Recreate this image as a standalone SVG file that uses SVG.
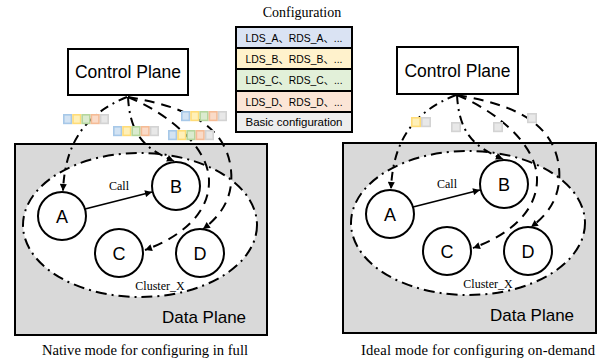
<svg xmlns="http://www.w3.org/2000/svg" width="598" height="360" viewBox="0 0 598 360">
  <defs>
    <marker id="arr" viewBox="0 0 10 10" refX="10" refY="5" markerWidth="8" markerHeight="7" markerUnits="userSpaceOnUse" orient="auto">
      <path d="M0,0 L10,5 L0,10 z" fill="#000"/>
    </marker>
    <style>
      .box { fill: #fff; stroke: #000; stroke-width: 2; }
      .dp { fill: #d9d9d9; stroke: #000; stroke-width: 2; }
      .cluster { fill: #fff; stroke: #000; stroke-width: 2; stroke-dasharray: 11 5 2 5; }
      .node { fill: #fff; stroke: #000; stroke-width: 2; }
      .dashdot { fill: none; stroke: #000; stroke-width: 2; stroke-dasharray: 9 5 2 5; }
      .dash { fill: none; stroke: #000; stroke-width: 2; stroke-dasharray: 10 7; }
      .solid { fill: none; stroke: #000; stroke-width: 1.8; }
      .sans { font-family: "Liberation Sans", Arial, sans-serif; fill: #000; }
      .serif { font-family: "Liberation Serif", "Times New Roman", serif; fill: #000; }
      .cp { font-size: 17.5px; text-anchor: middle; }
      .lbl { font-size: 18px; text-anchor: middle; }
      .small { font-size: 12px; text-anchor: middle; }
      .cap { font-size: 14.6px; text-anchor: middle; }
      .row { stroke: #000; stroke-width: 2; }
      .cell { font-family: "Liberation Sans", Arial, "Noto Sans CJK SC", sans-serif; font-size: 11px; text-anchor: middle; fill: #000; }
      .sqb { fill: #d3e3f3; stroke: #a7c8e8; stroke-width: 1.6; }
      .sqy { fill: #fff0b8; stroke: #ffdc78; stroke-width: 1.6; }
      .sqg { fill: #dbebcf; stroke: #b5d69d; stroke-width: 1.6; }
      .sqo { fill: #fadbc8; stroke: #f5bb95; stroke-width: 1.6; }
      .sqk { fill: #e8e8e8; stroke: #d3d3d3; stroke-width: 1.6; }
    </style>
  </defs>

  <!-- Configuration table -->
  <g id="configuration">
    <text class="serif" x="302" y="17" font-size="14" text-anchor="middle">Configuration</text>
    <rect class="row" x="236" y="27" width="116" height="21" fill="#dae3f3"/>
    <rect class="row" x="236" y="48" width="116" height="21" fill="#fff2cc"/>
    <rect class="row" x="236" y="69" width="116" height="22" fill="#e2f0d9"/>
    <rect class="row" x="236" y="91" width="116" height="21" fill="#fbe5d6"/>
    <rect class="row" x="236" y="112" width="116" height="20" fill="#ededed"/>
    <text class="cell" x="294" y="41.5" textLength="97" lengthAdjust="spacingAndGlyphs">LDS_A、RDS_A、...</text>
    <text class="cell" x="294" y="62.5" textLength="97" lengthAdjust="spacingAndGlyphs">LDS_B、RDS_B、...</text>
    <text class="cell" x="294" y="84" textLength="97" lengthAdjust="spacingAndGlyphs">LDS_C、RDS_C、...</text>
    <text class="cell" x="294" y="105.5" textLength="97" lengthAdjust="spacingAndGlyphs">LDS_D、RDS_D、...</text>
    <text class="cell" x="294" y="126" textLength="97" lengthAdjust="spacingAndGlyphs">Basic configuration</text>
  </g>

  <!-- LEFT PANEL -->
  <g id="left-panel">
    <g id="left-data-plane">
      <rect class="dp" x="15" y="144" width="252" height="191"/>
      <text class="sans" x="204" y="322.5" font-size="17" text-anchor="middle">Data Plane</text>
    </g>
    <g id="left-cluster">
      <ellipse class="cluster" cx="140" cy="225" rx="117" ry="72"/>
      <text class="serif small" x="160" y="290">Cluster_X</text>
    </g>
    <g id="left-control-plane">
      <rect class="box" x="68" y="49" width="120" height="46"/>
      <text class="sans cp" x="128" y="78">Control Plane</text>
    </g>
    <g id="left-connectors">
      <path class="dashdot" d="M127,97 C88,113 65,140 63,191" marker-end="url(#arr)"/>
      <path class="dashdot" d="M128,97 C130,132 142,148 174,161" marker-end="url(#arr)"/>
      <path class="dash" d="M128,97 C165,112 208,145 209,180 C210,215 178,238 145,250" marker-end="url(#arr)"/>
      <path class="dash" d="M128,97 C175,105 226,120 231,170 C234,200 218,218 203,229" marker-end="url(#arr)"/>
      <path class="solid" d="M85,209 L152,192" marker-end="url(#arr)"/>
      <text class="serif small" x="119" y="190">Call</text>
    </g>
    <g id="left-node-A"><circle class="node" cx="62" cy="216" r="24"/><text class="sans lbl" x="62" y="222.5">A</text></g>
    <g id="left-node-B"><circle class="node" cx="176" cy="186" r="24"/><text class="sans lbl" x="176" y="192.5">B</text></g>
    <g id="left-node-C"><circle class="node" cx="119" cy="253" r="24"/><text class="sans lbl" x="119" y="259.5">C</text></g>
    <g id="left-node-D"><circle class="node" cx="200" cy="253" r="24"/><text class="sans lbl" x="200" y="259.5">D</text></g>
    <g id="left-config-packets">
      <g transform="translate(63,114)">
        <rect class="sqb" x="0.8" y="0.8" width="7.6" height="8.6"/>
        <rect class="sqy" x="10" y="0.8" width="7.6" height="8.6"/>
        <rect class="sqg" x="19.2" y="0.8" width="7.6" height="8.6"/>
        <rect class="sqo" x="28.4" y="0.8" width="7.6" height="8.6"/>
        <rect class="sqk" x="37.6" y="0.8" width="7.6" height="8.6"/>
      </g>
      <g transform="translate(113,126)">
        <rect class="sqb" x="0.8" y="0.8" width="7.6" height="8.6"/>
        <rect class="sqy" x="10" y="0.8" width="7.6" height="8.6"/>
        <rect class="sqg" x="19.2" y="0.8" width="7.6" height="8.6"/>
        <rect class="sqo" x="28.4" y="0.8" width="7.6" height="8.6"/>
        <rect class="sqk" x="37.6" y="0.8" width="7.6" height="8.6"/>
      </g>
      <g transform="translate(168,130)">
        <rect class="sqb" x="0.8" y="0.8" width="7.6" height="8.6"/>
        <rect class="sqy" x="10" y="0.8" width="7.6" height="8.6"/>
        <rect class="sqg" x="19.2" y="0.8" width="7.6" height="8.6"/>
        <rect class="sqo" x="28.4" y="0.8" width="7.6" height="8.6"/>
        <rect class="sqk" x="37.6" y="0.8" width="7.6" height="8.6"/>
      </g>
      <g transform="translate(181,111)">
        <rect class="sqb" x="0.8" y="0.8" width="7.6" height="8.6"/>
        <rect class="sqy" x="10" y="0.8" width="7.6" height="8.6"/>
        <rect class="sqg" x="19.2" y="0.8" width="7.6" height="8.6"/>
        <rect class="sqo" x="28.4" y="0.8" width="7.6" height="8.6"/>
        <rect class="sqk" x="37.6" y="0.8" width="7.6" height="8.6"/>
      </g>
    </g>
    <text class="serif cap" x="145" y="355" textLength="206">Native mode for configuring in full</text>
  </g>

  <!-- RIGHT PANEL -->
  <g id="right-panel">
    <g transform="translate(328,-1)">
      <g id="right-data-plane">
        <rect class="dp" x="15" y="144" width="253" height="190"/>
        <text class="sans" x="204" y="322" font-size="17" text-anchor="middle">Data Plane</text>
      </g>
      <g id="right-cluster">
        <ellipse class="cluster" cx="140" cy="224" rx="117" ry="72"/>
        <text class="serif small" x="160" y="289">Cluster_X</text>
      </g>
      <g id="right-control-plane">
        <rect class="box" x="69" y="48" width="121" height="47"/>
        <text class="sans cp" x="129.5" y="77.5">Control Plane</text>
      </g>
      <g id="right-connectors">
        <path class="dashdot" d="M128,96 C88,112 65,139 63,190" marker-end="url(#arr)"/>
        <path class="dashdot" d="M129,96 C131,131 143,147 175,160" marker-end="url(#arr)"/>
        <path class="dash" d="M129,96 C166,111 208,144 209,179 C210,214 178,237 145,249" marker-end="url(#arr)"/>
        <path class="dash" d="M129,96 C176,104 226,119 231,169 C234,199 218,217 203,228" marker-end="url(#arr)"/>
        <path class="solid" d="M85,208 L152,191" marker-end="url(#arr)"/>
        <text class="serif small" x="119" y="189">Call</text>
      </g>
      <g id="right-node-A"><circle class="node" cx="62" cy="215" r="24"/><text class="sans lbl" x="62" y="221.5">A</text></g>
      <g id="right-node-B"><circle class="node" cx="176" cy="185" r="24"/><text class="sans lbl" x="176" y="191.5">B</text></g>
      <g id="right-node-C"><circle class="node" cx="119" cy="252" r="24"/><text class="sans lbl" x="119" y="258.5">C</text></g>
      <g id="right-node-D"><circle class="node" cx="200" cy="252" r="24"/><text class="sans lbl" x="200" y="258.5">D</text></g>
    </g>
    <g id="right-config-packets">
      <rect class="sqy" x="411.8" y="117.8" width="8.4" height="8.6"/>
      <rect class="sqk" x="421.8" y="117.8" width="8.4" height="8.6"/>
      <rect class="sqk" x="451.8" y="122.8" width="8.4" height="8.6"/>
      <rect class="sqk" x="493.8" y="122.8" width="8.4" height="8.6"/>
      <rect class="sqk" x="527.8" y="113.8" width="8.4" height="8.6"/>
    </g>
    <text class="serif cap" x="478" y="355" textLength="234">Ideal mode for configuring on-demand</text>
  </g>
</svg>
